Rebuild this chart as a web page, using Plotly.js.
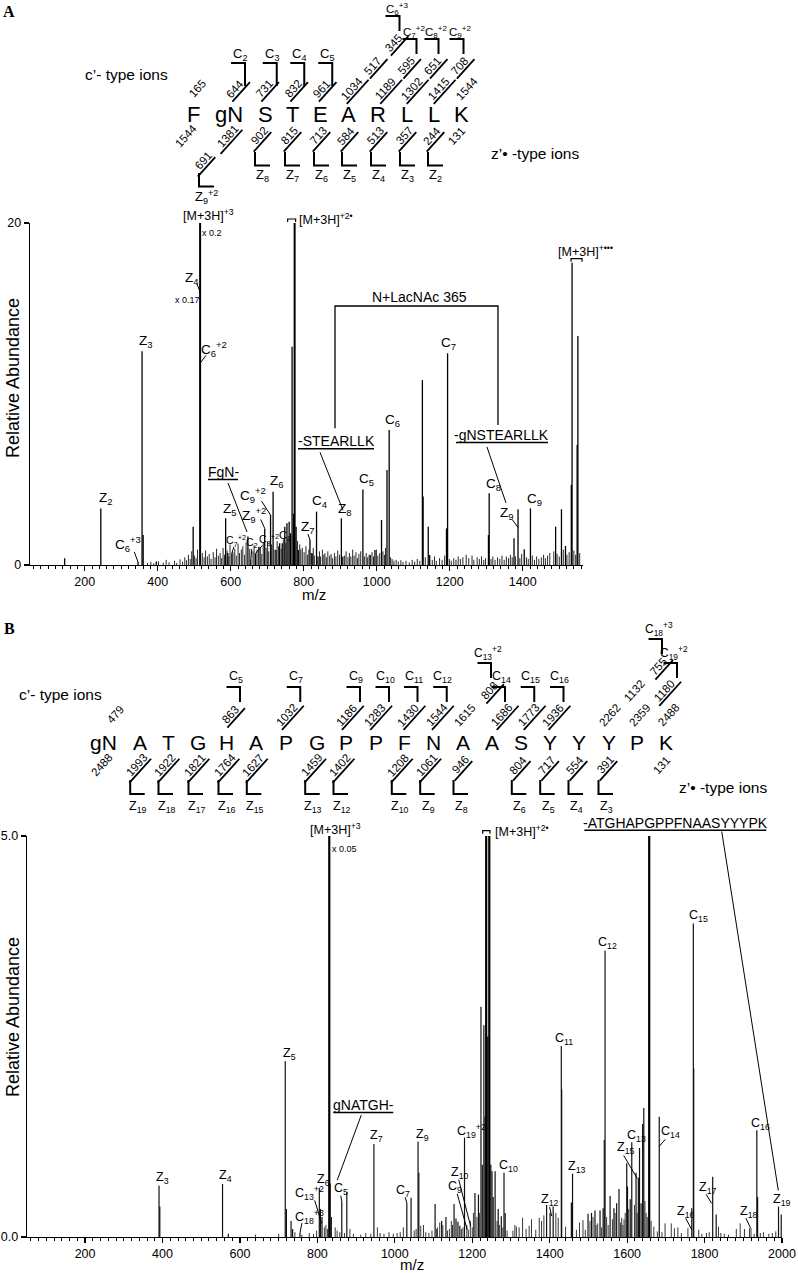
<!DOCTYPE html>
<html>
<head>
<meta charset="utf-8">
<script src="https://cdn.plot.ly/plotly-3.0.1.min.js"></script>
<style>
html,body{margin:0;padding:0;background:#fff;}
#chart{width:798px;height:1273px;}
</style>
</head>
<body>
<div id="chart"></div>
<script>
// ======================= DATA =======================
// ---- Panel A : peptide F-gN-STEARLLK ----
const seqA = ['F','gN','S','T','E','A','R','L','L','K'];
const cResA  = [0,1,2,3,4,5,6,7,8,9];
const cMassA = [['165'],['644'],['731'],['832'],['961'],['1034','517','345'],['1189','595'],['1302','651'],['1415','708'],['1544']];
const cSeenA = [[0],[1],[1],[1],[1],[1,1,1],[1,1],[1,1],[1,1],[0]];
const cNameA = ['','C<sub>2</sub>','C<sub>3</sub>','C<sub>4</sub>','C<sub>5</sub>','C<sub>6</sub><sup>+3</sup>','C<sub>7</sub><sup>+2</sup>','C<sub>8</sub><sup>+2</sup>','C<sub>9</sub><sup>+2</sup>',''];
const zResA  = [0,1,2,3,4,5,6,7,8,9];
const zMassA = [['1544'],['1381','691'],['902'],['815'],['713'],['584'],['513'],['357'],['244'],['131']];
const zSeenA = [[0],[1,1],[1],[1],[1],[1],[1],[1],[1],[0]];
const zNameA = ['','Z<sub>9</sub><sup>+2</sup>','Z<sub>8</sub>','Z<sub>7</sub>','Z<sub>6</sub>','Z<sub>5</sub>','Z<sub>4</sub>','Z<sub>3</sub>','Z<sub>2</sub>',''];

// spectrum A : [m/z, relative abundance]
const precursorA = [[516,20],[775,20.2]];
const peaksA = [[145,0.39],[244,3.31],[346,0.14],[357,12.5],[360,1.75],[396,0.2],[497,2.24],[586,2.73],[592,0.7],[603,0.68],
 [647,1.66],[655,0.3],[668,0.68],[677,1.07],[693,2.14],[709,2.92],[716,4.29],[724,0.88],[734,1.27],[741,1.27],[748,2.24],
 [754,2.44],[760,2.53],[764,1.85],[768,12.77],[772,3.0],[779,2.24],[785,0.88],[817,1.46],[823,0.68],[835,3.12],[839,0.49],
 [903,2.73],[907,0.5],[962,4.42],[982,0.58],[995,0.88],[1013,2.63],[1028,5.56],[1034,7.89],[1125,10.82],[1127,4.0],
 [1141,2.24],[1145,0.58],[1191,2.14],[1194,12.38],[1306,1.75],[1308,4.19],[1376,1.56],[1387,3.26],[1404,0.92],[1421,3.31],
 [1490,2.24],[1506,3.26],[1517,1.11],[1533,4.68],[1535,17.68],[1549,7.02],[1551,13.39]];
const noiseA = [[372,0.12],[381,0.18],[389,0.1],[402,0.22],[415,0.14],[423,0.3],[431,0.16],[446,0.25],[452,0.12],[461,0.33],
 [468,0.2],[474,0.45],[479,0.28],[484,0.6],[489,0.35],[493,0.8],[501,0.55],[505,0.4],[509,0.9],[522,0.7],[527,0.45],[531,0.85],
 [536,0.5],[541,0.65],[546,0.35],[552,0.75],[557,0.45],[561,0.95],[566,0.55],[571,0.7],[575,0.4],[579,1.0],[583,0.6],[590,0.85],
 [595,0.5],[598,1.2],[606,0.75],[611,0.95],[615,0.55],[620,1.25],[624,0.7],[629,0.9],[633,1.1],[638,0.6],[642,1.3],[652,0.95],
 [661,0.8],[664,1.15],[672,0.9],[681,1.05],[685,0.65],[689,1.3],[697,1.0],[701,1.35],[704,0.8],[712,1.2],[721,0.9],[727,1.4],
 [731,1.1],[738,0.95],[744,1.5],[751,1.3],[757,1.6],[783,1.4],[789,1.2],[792,0.9],[796,1.0],[801,0.75],[806,1.1],[810,0.6],
 [814,0.9],[821,0.7],[826,1.0],[829,0.55],[843,0.8],[846,0.5],[851,0.9],[855,0.6],[858,0.7],[862,0.45],[866,0.8],[871,0.55],
 [875,0.65],[879,0.4],[884,0.7],[888,0.5],[893,0.85],[898,0.6],[912,0.55],[916,0.8],[921,0.45],[925,0.7],[929,0.5],[934,0.9],
 [938,0.55],[943,0.75],[947,0.4],[951,0.65],[956,0.8],[966,0.5],[971,0.7],[975,0.45],[979,0.6],[987,0.75],[991,0.5],[999,0.9],
 [1003,0.55],[1008,0.7],[1017,0.8],[1021,0.6],[1024,1.0],[1038,0.45],[1042,0.35],[1047,0.25],[1053,0.3],[1059,0.2],[1066,0.28],
 [1072,0.18],[1080,0.25],[1089,0.15],[1097,0.3],[1104,0.2],[1111,0.35],[1118,0.25],[1133,0.45],[1152,0.3],[1158,0.5],[1163,0.25],
 [1172,0.4],[1179,0.3],[1186,0.55],[1199,0.35],[1204,0.25],[1211,0.4],[1217,0.3],[1223,0.5],[1229,0.35],[1236,0.45],[1245,0.6],
 [1252,0.4],[1261,0.55],[1266,0.3],[1275,0.45],[1281,0.35],[1287,0.5],[1293,0.3],[1298,0.4],[1313,0.35],[1318,0.5],[1324,0.3],
 [1331,0.45],[1337,0.35],[1343,0.55],[1349,0.3],[1355,0.5],[1361,0.4],[1366,0.6],[1371,0.45],[1380,0.5],[1392,0.4],[1397,0.65],
 [1410,0.45],[1415,0.35],[1426,0.55],[1432,0.3],[1438,0.5],[1444,0.35],[1451,0.45],[1457,0.6],[1462,0.4],[1468,0.55],[1474,0.7],
 [1485,0.8],[1494,0.65],[1500,0.5],[1511,0.9],[1521,0.6],[1527,0.75],[1540,0.85],[1545,0.6],[1556,0.7]];
const xTicksA = [200,400,600,800,1000,1200,1400];
const yTicksA = [0,20];

// ---- Panel B : peptide gN-ATGHAPGPPFNAASYYYPK ----
const seqB = ['gN','A','T','G','H','A','P','G','P','P','F','N','A','A','S','Y','Y','Y','P','K'];
const cResB  = [0,4,6,8,9,10,11,12,13,14,15,17,18,19];
const cMassB = [['479'],['863'],['1032'],['1186'],['1283'],['1430'],['1544'],['1615','808'],['1686'],['1773'],['1936'],['2262','1132','755'],['2359','1180'],['2488']];
const cSeenB = [[0],[1],[1],[1],[1],[1],[1],[0,1],[1],[1],[1],[0,0,1],[0,1],[0]];
const cNameB = ['','C<sub>5</sub>','C<sub>7</sub>','C<sub>9</sub>','C<sub>10</sub>','C<sub>11</sub>','C<sub>12</sub>','C<sub>13</sub><sup>+2</sup>','C<sub>14</sub>','C<sub>15</sub>','C<sub>16</sub>','C<sub>18</sub><sup>+3</sup>','C<sub>19</sub><sup>+2</sup>',''];
const zResB  = [0,1,2,3,4,5,7,8,10,11,12,14,15,16,17,19];
const zMassB = [['2488'],['1993'],['1922'],['1821'],['1764'],['1627'],['1459'],['1402'],['1208'],['1061'],['946'],['804'],['717'],['554'],['391'],['131']];
const zSeenB = [[0],[1],[1],[1],[1],[1],[1],[1],[1],[1],[1],[1],[1],[1],[1],[0]];
const zNameB = ['','Z<sub>19</sub>','Z<sub>18</sub>','Z<sub>17</sub>','Z<sub>16</sub>','Z<sub>15</sub>','Z<sub>13</sub>','Z<sub>12</sub>','Z<sub>10</sub>','Z<sub>9</sub>','Z<sub>8</sub>','Z<sub>6</sub>','Z<sub>5</sub>','Z<sub>4</sub>','Z<sub>3</sub>',''];

const precursorB = [[830.7,6],[1236,6],[1244,6],[1657,6]];
const peaksB = [[391,0.64],[393,0.38],[555,0.66],[570,0.04],[717,2.19],[720,0.35],[732,0.2],[736,0.1],[755,0.05],[805,0.61],
 [808,0.35],[812,0.25],[833,0.67],[836,0.25],[863,0.44],[876,0.56],[946,1.16],[1031,0.42],[1042,0.49],[1060,1.19],[1062,0.8],
 [1104,0.41],[1121,0.2],[1132,0.25],[1153,0.41],[1158,0.23],[1163,0.19],[1168,0.14],[1180,1.24],[1207,0.55],[1216,0.53],
 [1222.5,2.87],[1226,0.9],[1230,2.64],[1233,1.5],[1240,2.5],[1248,0.9],[1251,0.82],[1254,0.5],[1259,0.82],[1267,0.35],[1275,0.26],
 [1282,0.8],[1285,0.3],[1392,0.4],[1401,0.3],[1409,0.38],[1430,2.38],[1431,1.84],[1456,0.43],[1459,0.79],[1499,0.29],[1508,0.3],
 [1517,0.33],[1530,0.33],[1538,0.36],[1541,1.21],[1543,3.57],[1556,0.51],[1566,0.36],[1573,0.42],[1579,0.6],[1599,0.92],
 [1601,0.63],[1608,0.47],[1612,1.18],[1623,0.8],[1629,0.74],[1632,1.11],[1636,0.42],[1640,1.41],[1643,1.61],[1683,1.5],
 [1767,0.36],[1771,3.91],[1772,2.1],[1821,0.75],[1830,0.28],[1935,1.33],[1937,0.5],[1991,0.38],[1998,0.28]];
const noiseB = [[640,0.03],[700,0.04],[742,0.06],[760,0.03],[779,0.05],[790,0.04],[798,0.08],[818,0.12],[822,0.15],[826,0.1],
 [846,0.12],[851,0.08],[858,0.06],[870,0.05],[884,0.1],[893,0.04],[912,0.03],[925,0.05],[938,0.04],[955,0.12],[962,0.05],
 [972,0.04],[985,0.06],[996,0.04],[1006,0.05],[1014,0.06],[1022,0.12],[1050,0.08],[1055,0.1],[1067,0.14],[1074,0.15],[1080,0.06],
 [1088,0.05],[1096,0.08],[1108,0.1],[1110,0.12],[1116,0.18],[1124,0.15],[1136,0.08],[1141,0.1],[1146,0.2],[1149,0.15],[1172,0.1],
 [1176,0.12],[1186,0.15],[1190,0.09],[1195,0.2],[1200,0.12],[1203,0.3],[1212,0.25],[1219,0.3],[1264,0.2],[1270,0.15],[1279,0.12],
 [1290,0.08],[1305,0.08],[1310,0.15],[1314,0.13],[1321,0.12],[1330,0.24],[1339,0.1],[1347,0.14],[1353,0.22],[1364,0.09],
 [1373,0.24],[1379,0.2],[1385,0.27],[1416,0.3],[1422,0.24],[1441,0.13],[1469,0.09],[1477,0.18],[1486,0.21],[1492,0.09],
 [1504,0.2],[1512,0.25],[1520,0.15],[1524,0.17],[1534,0.12],[1547,0.25],[1551,0.15],[1562,0.22],[1569,0.3],[1583,0.18],
 [1586,0.24],[1589,0.15],[1592,0.22],[1595,0.3],[1604,0.35],[1619,0.4],[1626,0.3],[1646,0.45],[1649,0.3],[1652,0.25],[1662,0.2],
 [1669,0.13],[1678,0.07],[1690,0.06],[1698,0.17],[1714,0.17],[1722,0.11],[1731,0.12],[1740,0.05],[1757,0.11],[1785,0.09],
 [1793,0.04],[1805,0.05],[1812,0.06],[1836,0.13],[1842,0.05],[1851,0.04],[1862,0.03],[1882,0.1],[1892,0.17],[1903,0.1],
 [1916,0.11],[1920,0.11],[1928,0.04],[1944,0.05],[1952,0.06],[1966,0.04],[1975,0.05],[1984,0.07]];
const xTicksB = [200,400,600,800,1000,1200,1400,1600,1800,2000];
const yTicksB = [0,5];

// ======================= LAYOUT HELPERS =======================
const W = 798, H = 1273;
const FONT = '"Liberation Sans", Arial, Helvetica, sans-serif';
const SERIF = '"Liberation Serif", "Times New Roman", serif';
const ann = [], shp = [];
const px = x => x / W, py = y => 1 - y / H;
function txt(x, y, t, size, extra) {
  ann.push(Object.assign({xref:'paper', yref:'paper', x:px(x), y:py(y), text:t, showarrow:false,
    xanchor:'center', yanchor:'middle', font:{family:FONT, size:size, color:'#000'}}, extra || {}));
}
function seg(x0, y0, x1, y1, w) {
  shp.push({type:'line', xref:'paper', yref:'paper', x0:px(x0), y0:py(y0), x1:px(x1), y1:py(y1),
    line:{color:'#000', width:w || 1}, layer:'above'});
}
function path(pts, w) {
  shp.push({type:'path', xref:'paper', yref:'paper', layer:'above',
    path: pts.map((p, i) => (i ? 'L' : 'M') + px(p[0]) + ',' + py(p[1])).join(' '),
    line:{color:'#000', width:w || 1}, fillcolor:'rgba(0,0,0,0)'});
}

// spectrum frames (pixel boxes of the two plot areas)
const GA = {x0:30, x1:583, m0:50, m1:1565, y0:565, y1:223, top:20};
const GB = {x0:27, x1:782, m0:50, m1:2000, y0:1237, y1:836, top:5};
const sx = (G, m) => G.x0 + (m - G.m0) * (G.x1 - G.x0) / (G.m1 - G.m0);
const sy = (G, h) => G.y0 - Math.min(h, G.top) * (G.y0 - G.y1) / G.top;

// ======================= FRAGMENT MAPS =======================
function drawMap(S, P) {
  S.seq.forEach((r, i) => txt(P.pos[i], P.ly, r, P.lsize));
  const rad = P.ang * Math.PI / 180;
  const ux = Math.cos(rad), uy = -Math.sin(rad), nx = Math.sin(rad), ny = Math.cos(rad);
  function num(cx, cy, m, u, dir) {
    txt(cx, cy, m, P.nsize, {textangle: -P.ang});
    if (!u) return;
    const len = m.length * P.nsize * 0.556 + 7;
    const mx = cx + P.ud * nx + dir * 2 * ux, my = cy + P.ud * ny + dir * 2 * uy;
    seg(mx - ux * len / 2, my - uy * len / 2, mx + ux * len / 2, my + uy * len / 2, 1.8);
  }
  S.cRes.forEach((ri, k) => {
    let cx, cy, lv;
    S.cMass[k].forEach((m, j) => {
      cx = P.pos[ri] + P.cDx[k] + j * P.cStep[0];
      cy = P.ly + P.cOff + j * P.cStep[1];
      lv = j;
      num(cx, cy, m, S.cSeen[k][j], 1);
    });
    if (S.cName[k]) {
      let vx, by, hgt, lbl;
      if (lv === 0) { vx = (P.pos[ri] + P.pos[ri + 1]) / 2 + P.gapDx; by = cy + P.cBr1[0]; hgt = P.cBr1[1]; lbl = P.cLbl; }
      else { vx = cx + P.cBx[k]; by = cy + P.cBr2[0]; hgt = P.cBr2[1]; lbl = P.cLbl2; }
      const ty = by - hgt;
      path([[vx - P.brW, ty], [vx, ty], [vx, by]], 2);
      txt(vx + lbl[0], ty + lbl[1], S.cName[k], lv ? P.bsize2 : P.bsize);
    }
  });
  S.zRes.forEach((ri, k) => {
    let cx, cy, lv;
    S.zMass[k].forEach((m, j) => {
      cx = P.pos[ri] + P.zDx[k] + j * P.zStep[0];
      cy = P.ly + P.zOff + j * P.zStep[1];
      lv = j;
      num(cx, cy, m, S.zSeen[k][j], -1);
    });
    if (S.zName[k]) {
      const b = lv ? P.zBr2 : P.zBr1;
      const vx = cx + b[0], ty = cy + b[1], by = ty + b[2];
      path([[vx, ty], [vx, by], [vx + P.brW + 1, by]], 2);
      txt(vx + P.zLbl[0], by + P.zLbl[1], S.zName[k], P.bsize);
    }
  });
  txt(P.cText[0], P.cText[1], 'c’- type ions', 15.5);
  txt(P.zText[0], P.zText[1], 'z’• -type ions', 15.5);
}

drawMap({seq:seqA, cRes:cResA, cMass:cMassA, cSeen:cSeenA, cName:cNameA, zRes:zResA, zMass:zMassA, zSeen:zSeenA, zName:zNameA},
 {pos:[193,229,265,292.5,320,348.5,378,406.5,434,461.5], ly:114, lsize:22, nsize:11.5, ang:48, ud:6.5,
  cDx:[4,6,-1,0.5,1.5,3,7,5,4.5,5], cOff:-25, cStep:[21,-23], gapDx:-2, cBr1:[-3,23], cBr2:[-12,15],
  cBx:[0,0,0,0,0,6,10.5,6,4,0], brW:14, cLbl:[-5,-9], cLbl2:[-3,-7],
  zDx:[-7,-1,-6,-3.5,-2,-2.5,-3,-2.5,-2,-5], zOff:22, zStep:[-25,25], zBr1:[-4,16,13.5], zBr2:[-4,12,13.5], zLbl:[7,10],
  bsize:13, bsize2:11.5, cText:[126,74], zText:[535,153]});

drawMap({seq:seqB, cRes:cResB, cMass:cMassB, cSeen:cSeenB, cName:cNameB, zRes:zResB, zMass:zMassB, zSeen:zSeenB, zName:zNameB},
 {pos:[103,140,168.5,198,226,256,286,316.5,346,376,404,433,462.5,491.5,520.5,550,579,608.5,637,665.5], ly:742.5, lsize:21, nsize:11.5, ang:48, ud:6.5,
  cDx:[12,4,0.7,0.7,-1,4.3,3.7,2.5,10,8,3.3,1.5,3,3], cOff:-27.5, cStep:[24,-24], gapDx:-1, cBr1:[-13,15], cBr2:[-13,15],
  cBx:[0,0,0,0,0,0,0,2,0,0,0,4,13,0], brW:13.5, cLbl:[-4,-10], cLbl2:[-3,-10],
  zDx:[-1.3,-3.3,-3.5,-3,-1,-2.7,-4.8,-6,-5.7,-6.3,-2.5,-2.2,-3.3,-4,-3.5,-3.8], zOff:22.5, zStep:[-25,25],
  zBr1:[-6.5,15,14], zBr2:[-6.5,15,14], zLbl:[8,12.5],
  bsize:12.5, bsize2:12, cText:[60,695], zText:[723,787]});

// ======================= SPECTRUM LABELS =======================
// t: text, m/h: peak point the label refers to, dx/dy: label centre offset (px),
// lx/ly: leader start relative to label centre, uw: underline half width, br: bracket
const labelsA = [
 {t:'Z<sub>2</sub>', m:244, h:3.31, dx:5, dy:-10},
 {t:'C<sub>6</sub><sup>+3</sup>', m:346.7, h:0.12, dx:-10, dy:-19, lx:6, ly:8},
 {t:'Z<sub>3</sub>', m:357, h:12.5, dx:4, dy:-10},
 {t:'[M+3H]<sup>+3</sup>', m:516, h:20, dx:8, dy:-8, fs:12.5},
 {t:'x 0.2', m:516, h:20, dx:12, dy:10, fs:9},
 {t:'Z<sub>4</sub>', m:516, h:15.96, dx:-8, dy:-14, lx:5, ly:6},
 {t:'x 0.17', m:516, h:15.96, dx:-13, dy:8, fs:9},
 {t:'C<sub>6</sub><sup>+2</sup>', m:516, h:11.8, dx:14, dy:-14, lx:-8, ly:6},
 {t:'Z<sub>5</sub>', m:586, h:2.73, dx:4, dy:-9},
 {t:'FgN-', m:644.5, h:1.93, dx:-24, dy:-60, lx:5, ly:11, uw:15, fs:14},
 {t:'C<sub>7</sub><sup>+2</sup>', m:603, h:0.68, dx:4, dy:-12.5, lx:-2, ly:6, fs:10.5},
 {t:'C<sub>2</sub>', m:655, h:0.3, dx:1, dy:-17, lx:0, ly:6, fs:10.5},
 {t:'C<sub>8</sub><sup>+2</sup>', m:668, h:0.68, dx:13, dy:-13, lx:-6, ly:5, fs:10.5},
 {t:'Z<sub>9</sub><sup>+2</sup>', m:693, h:2.14, dx:-11, dy:-13, lx:7, ly:4},
 {t:'C<sub>9</sub><sup>+2</sup>', m:709, h:2.92, dx:-18, dy:-20, lx:9, ly:6},
 {t:'Z<sub>6</sub>', m:716, h:4.29, dx:4, dy:-10},
 {t:'C<sub>3</sub>', m:734, h:1.27, dx:5, dy:-7, fs:11},
 {t:'Z<sub>7</sub>', m:817, h:1.46, dx:-2, dy:-13, lx:0, ly:7},
 {t:'C<sub>4</sub>', m:835, h:3.12, dx:3, dy:-10},
 {t:'Z<sub>8</sub>', m:903, h:2.73, dx:4, dy:-9},
 {t:'-STEARLLK', m:907.5, h:3.2, dx:-7, dy:-69, lx:-16, ly:11, uw:38, fs:14, id:'STE'},
 {t:'C<sub>5</sub>', m:962, h:4.42, dx:4, dy:-10},
 {t:'C<sub>6</sub>', m:1034, h:7.89, dx:3, dy:-10},
 {t:'C<sub>7</sub>', m:1194, h:12.38, dx:1, dy:-10},
 {t:'C<sub>8</sub>', m:1308, h:4.19, dx:4, dy:-9},
 {t:'-gNSTEARLLK', m:1354, h:3.63, dx:-4, dy:-68, lx:-15, ly:12, uw:46, fs:14, id:'GNS'},
 {t:'Z<sub>9</sub>', m:1387, h:2.2, dx:-11, dy:-14, lx:5, ly:6},
 {t:'C<sub>9</sub>', m:1421, h:3.31, dx:4, dy:-9},
 {t:'[M+3H]<sup>+2•</sup>', m:775, h:20, dx:31, dy:-4, fs:12.5, br:[-7,1,-4]},
 {t:'[M+3H]<sup>+•••</sup>', m:1535, h:17.68, dx:13, dy:-12, fs:12.5, br:[-1,10,-4]}
];
const labelsB = [
 {t:'Z<sub>3</sub>', m:391, h:0.64, dx:3, dy:-8},
 {t:'Z<sub>4</sub>', m:555, h:0.66, dx:3, dy:-8},
 {t:'Z<sub>5</sub>', m:717, h:2.19, dx:4, dy:-7},
 {t:'C<sub>18</sub><sup>+3</sup>', m:755, h:0.05, dx:10, dy:-16, lx:-8, ly:6},
 {t:'C<sub>13</sub><sup>+2</sup>', m:811, h:0.17, dx:-12, dy:-30, lx:5, ly:7},
 {t:'Z<sub>6</sub>', m:805, h:0.61, dx:4, dy:-8},
 {t:'[M+3H]<sup>+3</sup>', m:830.7, h:5, dx:6, dy:-7, fs:12.5},
 {t:'x 0.05', m:830.7, h:5, dx:15, dy:13, fs:9},
 {t:'gNATGH-', m:851.4, h:0.71, dx:26, dy:-75, lx:-2, ly:10, uw:30, fs:14},
 {t:'C<sub>5</sub>', m:863, h:0.44, dx:-1, dy:-13, lx:0, ly:7},
 {t:'Z<sub>7</sub>', m:946, h:1.16, dx:3, dy:-8},
 {t:'C<sub>7</sub>', m:1031, h:0.42, dx:-3.5, dy:-12, lx:2, ly:6},
 {t:'Z<sub>9</sub>', m:1060, h:1.19, dx:4, dy:-7},
 {t:'C<sub>9</sub>', m:1187, h:0.09, dx:-12, dy:-43, lx:2, ly:7},
 {t:'Z<sub>10</sub>', m:1196, h:0.13, dx:-11, dy:-54, lx:-1, ly:7},
 {t:'C<sub>19</sub><sup>+2</sup>', m:1180, h:1.24, dx:7, dy:-7},
 {t:'[M+3H]<sup>+2•</sup>', m:1244, h:5, dx:33, dy:-5.5, fs:12.5, br:[-6.6,0.7,-5.3]},
 {t:'C<sub>10</sub>', m:1282, h:0.8, dx:4, dy:-7},
 {t:'Z<sub>12</sub>', m:1405, h:0.26, dx:-2, dy:-16, lx:0, ly:7},
 {t:'C<sub>11</sub>', m:1430, h:2.38, dx:3, dy:-7},
 {t:'Z<sub>13</sub>', m:1459, h:0.79, dx:4, dy:-7},
 {t:'C<sub>12</sub>', m:1543, h:3.57, dx:2, dy:-8},
 {t:'C<sub>13</sub>', m:1612, h:1.18, dx:5, dy:-6},
 {t:'Z<sub>15</sub>', m:1626, h:0.73, dx:-11.5, dy:-30, lx:-2, ly:7},
 {t:'C<sub>14</sub>', m:1683, h:1.13, dx:11, dy:-14, lx:-5, ly:7},
 {t:'-ATGHAPGPPFNAASYYYPK', m:1990.5, h:0.58, dx:-103, dy:-367.7, lx:46.4, ly:8.7, uw:91, fs:14},
 {t:'C<sub>15</sub>', m:1771, h:3.91, dx:5, dy:-7},
 {t:'Z<sub>16</sub>', m:1767, h:0.09, dx:-6, dy:-17.5, lx:0, ly:6},
 {t:'Z<sub>17</sub>', m:1818, h:0.42, dx:-3.4, dy:-15, lx:-2, ly:6},
 {t:'Z<sub>18</sub>', m:1919, h:0.11, dx:-1.7, dy:-16, lx:-3, ly:6},
 {t:'C<sub>16</sub>', m:1935, h:1.33, dx:4, dy:-6},
 {t:'Z<sub>19</sub>', m:1991, h:0.38, dx:3, dy:-7}
];

function drawLabels(G, L, defFs) {
  const out = {};
  L.forEach(o => {
    const tx = sx(G, o.m), ty = sy(G, o.h);
    const cx = tx + o.dx, cy = ty + o.dy;
    txt(cx, cy, o.t, o.fs || defFs);
    if (o.lx !== undefined) seg(cx + o.lx, cy + o.ly, tx, ty, 1);
    if (o.uw) seg(cx - o.uw, cy + 7.5, cx + o.uw, cy + 7.5, 1.5);
    if (o.br) path([[tx + o.br[0], ty + o.br[2] + 3], [tx + o.br[0], ty + o.br[2]], [tx + o.br[1], ty + o.br[2]], [tx + o.br[1], ty + o.br[2] + 3]], 1.2);
    if (o.id) out[o.id] = [cx, cy];
  });
  return out;
}
const idA = drawLabels(GA, labelsA, 13.5);
drawLabels(GB, labelsB, 12.5);
// N+LacNAc 365 bracket joining the two neutral-loss labels
(function () {
  const a = idA.STE, b = idA.GNS, top = 306;
  path([[a[0] - 1, a[1] - 13], [a[0] - 1, top], [b[0] - 4, top], [b[0] - 4, b[1] - 10]], 1.3);
  txt((a[0] + b[0]) / 2 + 1, top - 9, 'N+LacNAc 365', 14);
})();

// panel letters and axis titles
txt(9, 12, '<b>A</b>', 16, {font:{family:SERIF, size:16, color:'#000'}});
txt(9, 628, '<b>B</b>', 16, {font:{family:SERIF, size:16, color:'#000'}});
txt(13, 378, 'Relative Abundance', 18, {textangle:-90});
txt(13, 1017, 'Relative Abundance', 18, {textangle:-90});
txt(314, 595, 'm/z', 15, {borderpad:0});
txt(412, 1264, 'm/z', 15, {borderpad:0});

// ======================= TRACES =======================
function sticks(list, ax, ay, w, c) {
  const x = [], y = [];
  list.forEach(p => { x.push(p[0], p[0], null); y.push(0, p[1], null); });
  return {type:'scatter', mode:'lines', x:x, y:y, xaxis:ax, yaxis:ay, line:{color:c, width:w},
          hoverinfo:'skip', showlegend:false, connectgaps:false};
}
const traces = [
  sticks(noiseA, 'x', 'y', 0.9, '#111'),
  sticks(peaksA, 'x', 'y', 1.3, '#000'),
  sticks(precursorA, 'x', 'y', 2, '#000'),
  sticks(noiseB, 'x2', 'y2', 0.9, '#222'),
  sticks(peaksB, 'x2', 'y2', 1.2, '#111'),
  sticks(precursorB, 'x2', 'y2', 2.2, '#000')
];

const axBase = {showline:true, linecolor:'#000', linewidth:1.3, ticks:'outside', tickcolor:'#000', tickwidth:1.2,
  ticklen:5, showgrid:false, zeroline:false, fixedrange:true, tickfont:{family:FONT, size:12.5, color:'#000'}};
const minorX = {ticks:'outside', ticklen:3, tickwidth:1, tickcolor:'#000', dtick:20, tick0:0, showgrid:false};

const layout = {
  width:W, height:H, margin:{l:0, r:0, t:0, b:0}, paper_bgcolor:'#fff', plot_bgcolor:'rgba(0,0,0,0)',
  showlegend:false, hovermode:false,
  xaxis: Object.assign({}, axBase, {domain:[px(GA.x0), px(GA.x1)], range:[GA.m0, GA.m1], anchor:'y',
          tickmode:'array', tickvals:xTicksA, ticktext:xTicksA.map(String), minor:minorX}),
  yaxis: Object.assign({}, axBase, {domain:[py(GA.y0), py(GA.y1)], range:[0, GA.top], anchor:'x',
          tickmode:'array', tickvals:yTicksA, ticktext:yTicksA.map(String)}),
  xaxis2: Object.assign({}, axBase, {domain:[px(GB.x0), px(GB.x1)], range:[GB.m0, GB.m1], anchor:'y2',
          tickmode:'array', tickvals:xTicksB, ticktext:xTicksB.map(String), minor:minorX}),
  yaxis2: Object.assign({}, axBase, {domain:[py(GB.y0), py(GB.y1)], range:[0, GB.top], anchor:'x2',
          tickmode:'array', tickvals:yTicksB, ticktext:yTicksB.map(v => v.toFixed(1))}),
  annotations: ann,
  shapes: shp
};

Plotly.newPlot('chart', traces, layout, {staticPlot:true, displayModeBar:false});
</script>
</body>
</html>
